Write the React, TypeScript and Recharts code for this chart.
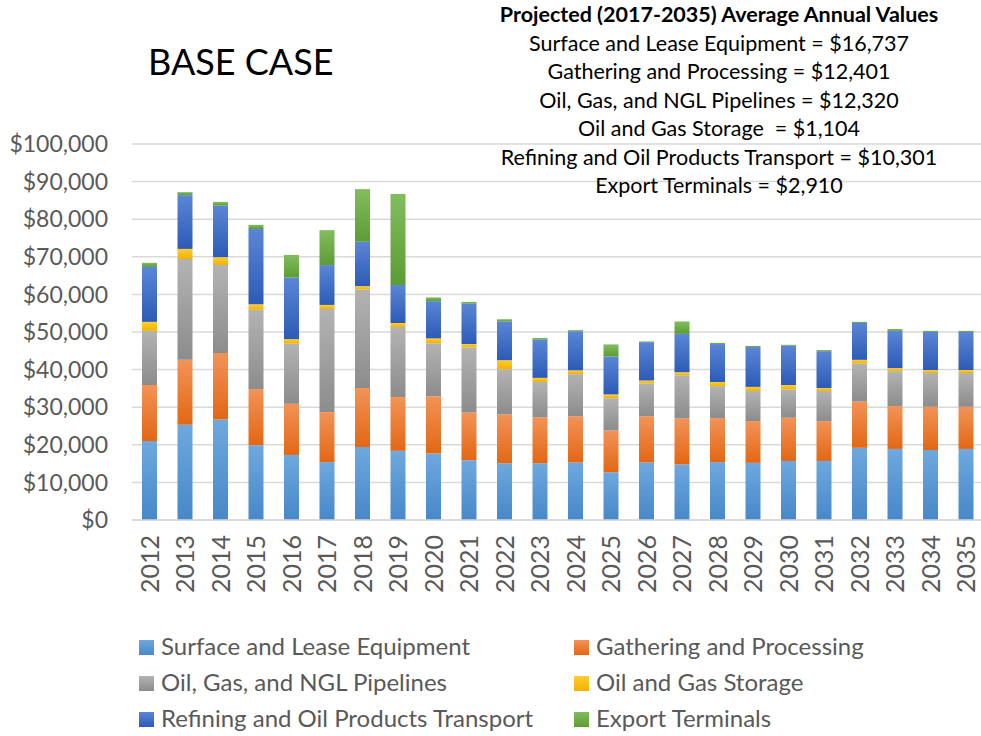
import React from 'react';
import { BarChart, Bar, XAxis, YAxis, CartesianGrid } from 'recharts';

const years = [
  '2012', '2013', '2014', '2015', '2016', '2017', '2018', '2019', '2020', '2021', '2022', '2023',
  '2024', '2025', '2026', '2027', '2028', '2029', '2030', '2031', '2032', '2033', '2034', '2035',
];

// values in dollars
const surface = [21000, 25300, 26700, 19900, 17300, 15400, 19400, 18400, 17700, 15900, 15100, 15100, 15300, 12700, 15300, 14800, 15400, 15200, 15700, 15700, 19200, 18900, 18600, 18900];
const gathering = [14900, 17300, 17700, 14900, 13600, 13300, 15700, 14300, 15200, 12700, 13000, 12200, 12300, 11100, 12300, 12200, 11700, 11100, 11500, 10600, 12300, 11400, 11500, 11200];
const pipelines = [14400, 26800, 23400, 21100, 16000, 27400, 26200, 18600, 14100, 17300, 12000, 9400, 11200, 8600, 8700, 11500, 8500, 8000, 7500, 8000, 10100, 9300, 9000, 9000];
const storage = [2400, 2700, 2100, 1500, 1200, 1100, 900, 1100, 1300, 900, 2400, 1100, 1000, 1000, 800, 800, 1100, 1100, 1200, 800, 1000, 800, 800, 800];
const refining = [14600, 14300, 13700, 20000, 16400, 10600, 11800, 10100, 9900, 10800, 10300, 10200, 10400, 10100, 10200, 10200, 10100, 10600, 10500, 9800, 9800, 9900, 10100, 10100];
const exportTerminals = [1100, 800, 1000, 1100, 6000, 9300, 14000, 24200, 1000, 400, 600, 400, 300, 3200, 200, 3300, 300, 300, 200, 300, 300, 500, 300, 300];

const yTicks = [0, 10000, 20000, 30000, 40000, 50000, 60000, 70000, 80000, 90000, 100000];

const averageLines = [
  'Surface and Lease Equipment = $16,737',
  'Gathering and Processing = $12,401',
  'Oil, Gas, and NGL Pipelines = $12,320',
  'Oil and Gas Storage  = $1,104',
  'Refining and Oil Products Transport = $10,301',
  'Export Terminals = $2,910',
];

const data = years.map((year, i) => ({
  year,
  surface: surface[i],
  gathering: gathering[i],
  pipelines: pipelines[i],
  storage: storage[i],
  refining: refining[i],
  exportTerminals: exportTerminals[i],
}));

const SERIES = [
  { key: 'surface', name: 'Surface and Lease Equipment', top: '#6ea8de', bottom: '#4788c9' },
  { key: 'gathering', name: 'Gathering and Processing', top: '#f29357', bottom: '#e36714' },
  { key: 'pipelines', name: 'Oil, Gas, and NGL Pipelines', top: '#b3b3b3', bottom: '#8c8c8c' },
  { key: 'storage', name: 'Oil and Gas Storage', top: '#ffcd35', bottom: '#f2b200' },
  { key: 'refining', name: 'Refining and Oil Products Transport', top: '#5b86d6', bottom: '#2c5bb7' },
  { key: 'exportTerminals', name: 'Export Terminals', top: '#82bd5e', bottom: '#5c9c34' },
];

const FONT = 'Lato, "Open Sans", sans-serif';
const AXIS_TEXT = '#595959';
const GRID = '#d9d9d9';

const money = (v: number) => `$${v.toLocaleString('en-US')}`;

// year labels read bottom-to-top, centred on the bar
const YearTick = ({ x, y, payload }: any) => (
  <text
    x={x - 1}
    y={y}
    transform={`rotate(-90, ${x - 1}, ${y})`}
    textAnchor="end"
    dominantBaseline="central"
    fill={AXIS_TEXT}
    fontSize={25}
    fontFamily={FONT}
  >
    {payload.value}
  </text>
);

function Gradients() {
  return (
    <defs>
      {SERIES.map((s) => (
        <linearGradient key={s.key} id={`grad-${s.key}`} x1="0" y1="0" x2="0" y2="1">
          <stop offset="0%" stopColor={s.top} />
          <stop offset="100%" stopColor={s.bottom} />
        </linearGradient>
      ))}
    </defs>
  );
}

export default function App() {
  return (
    <div
      style={{
        position: 'absolute',
        left: 0,
        top: 0,
        width: 981,
        height: 736,
        overflow: 'hidden',
        background: '#fff',
        fontFamily: FONT,
      }}
    >
      <BarChart
        width={990}
        height={600}
        data={data}
        margin={{ top: 144, right: 6, left: 0, bottom: 0 }}
      >
        <Gradients />
        <CartesianGrid vertical={false} stroke={GRID} strokeWidth={1.5} />
        <XAxis
          dataKey="year"
          height={80}
          tick={<YearTick />}
          tickLine={false}
          tickSize={5}
          tickMargin={10}
          axisLine={{ stroke: GRID, strokeWidth: 1.5 }}
          interval={0}
        />
        <YAxis
          width={132}
          domain={[0, 100000]}
          ticks={yTicks}
          tickFormatter={money}
          tick={{ fill: AXIS_TEXT, fontSize: 23, fontFamily: FONT }}
          tickLine={false}
          tickSize={0}
          tickMargin={24}
          axisLine={false}
          interval={0}
        />
        {SERIES.map((s) => (
          <Bar
            key={s.key}
            dataKey={s.key}
            name={s.name}
            stackId="total"
            fill={`url(#grad-${s.key})`}
            barSize={15}
            isAnimationActive={false}
          />
        ))}
      </BarChart>

      {/* title, averages box and legend */}
      <svg
        width={981}
        height={736}
        style={{ position: 'absolute', left: 0, top: 0, pointerEvents: 'none' }}
        fontFamily={FONT}
      >
        <text x={148} y={75} fontSize={36} fill="#000">BASE CASE</text>
        <text x={719} y={22} fontSize={21.5} fontWeight="bold" textAnchor="middle" fill="#000">
          Projected (2017-2035) Average Annual Values
        </text>
        {averageLines.map((line, i) => (
          <text
            key={line}
            x={719}
            y={50.5 + i * 28.5}
            fontSize={21.5}
            textAnchor="middle"
            fill="#000"
            style={{ whiteSpace: 'pre' }}
          >
            {line}
          </text>
        ))}
        {SERIES.map((s, i) => {
          const col = i % 2;
          const row = Math.floor(i / 2);
          const sx = col === 0 ? 139 : 574;
          const sy = 640 + row * 36;
          return (
            <g key={s.key}>
              <rect x={sx} y={sy} width={15} height={15} fill={`url(#leg-${s.key})`} />
              <defs>
                <linearGradient id={`leg-${s.key}`} x1="0" y1="0" x2="0" y2="1">
                  <stop offset="0%" stopColor={s.top} />
                  <stop offset="100%" stopColor={s.bottom} />
                </linearGradient>
              </defs>
              <text x={sx + 22} y={sy + 15} fontSize={24} fill={AXIS_TEXT}>
                {s.name}
              </text>
            </g>
          );
        })}
      </svg>
    </div>
  );
}
